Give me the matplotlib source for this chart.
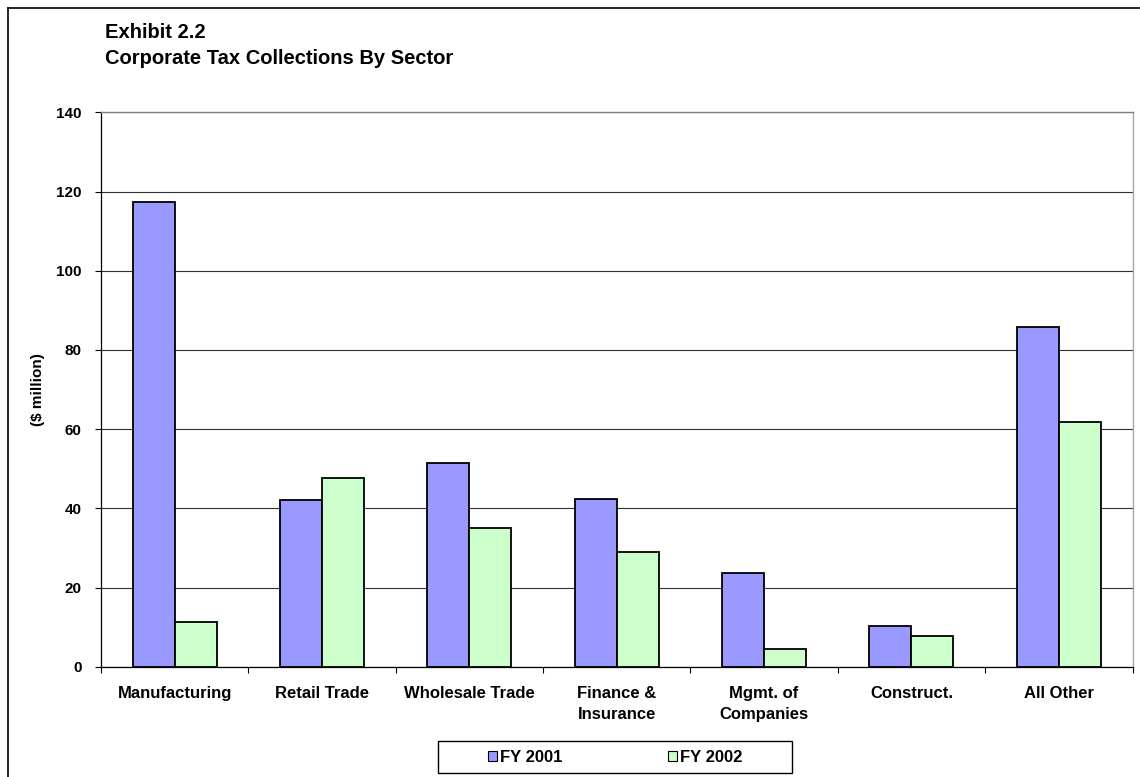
import numpy as np
import matplotlib
matplotlib.use("Agg")
import matplotlib.pyplot as plt
from matplotlib.lines import Line2D
from matplotlib.patches import Rectangle, Patch

plt.rcParams["font.family"] = ["Liberation Sans", "DejaVu Sans"]
plt.rcParams["font.weight"] = "bold"

sectors = ["Manufacturing", "Retail Trade", "Wholesale Trade", "Finance &\nInsurance",
           "Mgmt. of\nCompanies", "Construct.", "All Other"]
fy2001 = [117.4, 42.0, 51.4, 42.4, 23.6, 10.4, 85.9]
fy2002 = [11.3, 47.6, 35.0, 28.9, 4.4, 7.7, 61.8]
yticks = [0, 20, 40, 60, 80, 100, 120, 140]

W, H = 1140, 777
fig = plt.figure(figsize=(W / 100, H / 100), dpi=100)
ax = fig.add_axes([101 / W, (H - 666.7) / H, (1132.5 - 101) / W, (666.7 - 112.3) / H])

x = np.arange(len(sectors))
w = 0.285
ax.bar(x - w / 2, fy2001, w, color="#9999FF", edgecolor="black", linewidth=1.3, zorder=3)
ax.bar(x + w / 2, fy2002, w, color="#CCFFCC", edgecolor="black", linewidth=1.3, zorder=3)

ax.set_xlim(-0.5, len(sectors) - 0.5)
ax.set_ylim(0, 140)
ax.set_yticks(yticks)
ax.set_yticklabels([str(v) for v in yticks], fontsize=11, fontweight="bold")
ax.tick_params(axis="y", direction="out", length=4, width=0.8, pad=10)
ax.grid(axis="y", color="#303030", linewidth=0.8, zorder=0)

ax.set_xticks(x)
ax.set_xticklabels(sectors, fontsize=12, fontweight="bold", linespacing=1.45)
ax.tick_params(axis="x", which="major", length=0, pad=14)
ax.set_xticks(np.arange(-0.5, len(sectors)), minor=True)
ax.tick_params(axis="x", which="minor", direction="out", length=4, width=0.8)

for s in ["left", "bottom"]:
    ax.spines[s].set_color("black")
    ax.spines[s].set_linewidth(0.9)
ax.spines["top"].set_color("#808080")
ax.spines["top"].set_linewidth(1.0)
ax.spines["right"].set_color("#a8a8a8")
ax.spines["right"].set_linewidth(1.0)

ax.set_ylabel("($ million)", fontsize=11, fontweight="bold")
ax.yaxis.set_label_coords((45 - 101) / (1132.5 - 101), 0.5)

fig.text(105 / W, 1 - 33 / H, "Exhibit 2.2", fontsize=14.5, fontweight="bold", va="center")
fig.text(105 / W, 1 - 58 / H, "Corporate Tax Collections By Sector", fontsize=14.5,
         fontweight="bold", va="center")

# outer chart frame (right and bottom fall outside the picture)
fig.add_artist(Line2D([7.5 / W, 7.5 / W], [0, 1 - 7.5 / H], color="black", linewidth=1.2))
fig.add_artist(Line2D([7.5 / W, 1], [1 - 7.5 / H, 1 - 7.5 / H], color="black", linewidth=1.2))

# legend box
fig.add_artist(Rectangle((438 / W, 1 - 772.5 / H), (792 - 438) / W, (772.5 - 741) / H,
                         transform=fig.transFigure, facecolor="white", edgecolor="black",
                         linewidth=1.0))
handles = [Patch(facecolor="#9999FF", edgecolor="black", linewidth=0.8),
           Patch(facecolor="#CCFFCC", edgecolor="black", linewidth=0.8)]
fig.legend(handles, ["FY 2001", "FY 2002"], loc="center", bbox_to_anchor=(615 / W, 1 - 757 / H),
           ncol=2, frameon=False, handlelength=0.55, handleheight=0.55, handletextpad=0.2,
           columnspacing=6.3, prop={"size": 12, "weight": "bold"})

fig.savefig("out.png", dpi=100)
